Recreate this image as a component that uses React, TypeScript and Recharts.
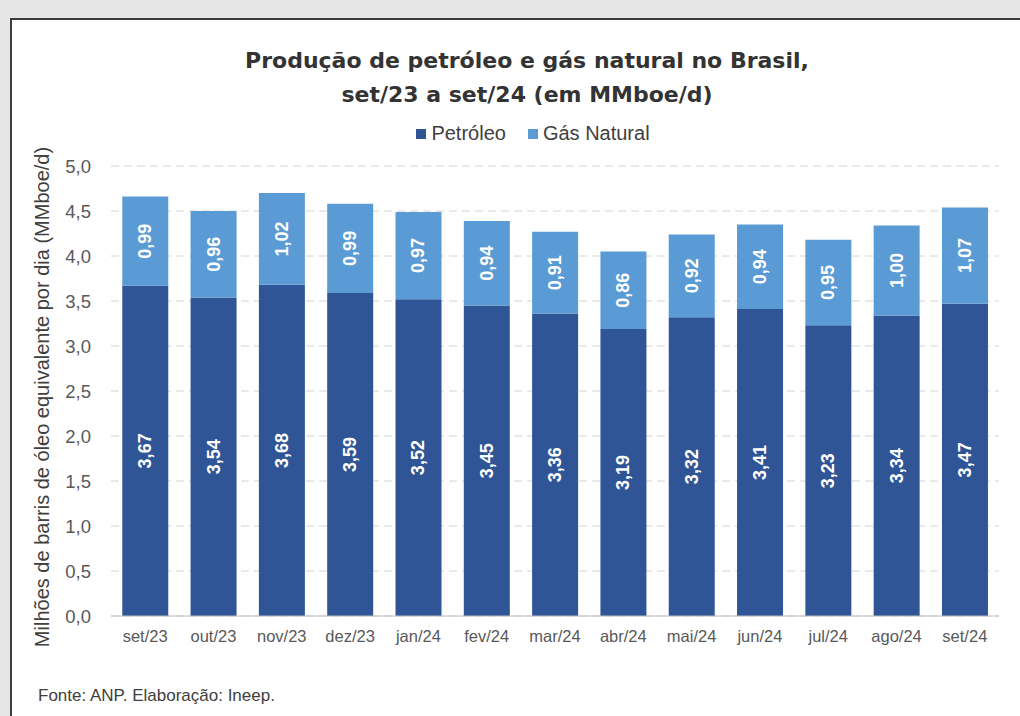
import { BarChart, Bar, XAxis, YAxis, CartesianGrid, LabelList } from 'recharts';

const months = ['set/23', 'out/23', 'nov/23', 'dez/23', 'jan/24', 'fev/24', 'mar/24', 'abr/24', 'mai/24', 'jun/24', 'jul/24', 'ago/24', 'set/24'];
const petroleo = [3.67, 3.54, 3.68, 3.59, 3.52, 3.45, 3.36, 3.19, 3.32, 3.41, 3.23, 3.34, 3.47];
const gasNatural = [0.99, 0.96, 1.02, 0.99, 0.97, 0.94, 0.91, 0.86, 0.92, 0.94, 0.95, 1.0, 1.07];
const yTicks = [0, 0.5, 1, 1.5, 2, 2.5, 3, 3.5, 4, 4.5, 5];

const data = months.map((m, i) => ({ month: m, petroleo: petroleo[i], gas: gasNatural[i] }));

const DARK = '#2f5597';
const LIGHT = '#5b9bd5';
const FONT = '"Liberation Sans", Arial, sans-serif';

const fmt = (v: number, digits = 2) => v.toFixed(digits).replace('.', ',');

// rotated white value inside each bar segment
function BarValue(props: any) {
  const { x, y, width, height, value } = props;
  const cx = x + width / 2;
  const cy = y + height / 2;
  return (
    <text
      x={cx}
      y={cy}
      transform={`rotate(-90, ${cx}, ${cy})`}
      textAnchor="middle"
      dominantBaseline="central"
      fill="#ffffff"
      fontSize={18}
      fontWeight="bold"
      fontFamily={FONT}
    >
      {fmt(value)}
    </text>
  );
}

export default function App() {
  return (
    <div style={{ position: 'absolute', left: 0, top: 0, width: 1020, height: 716, background: '#e6e6e6', overflow: 'hidden', fontFamily: FONT }}>
      <div style={{ position: 'absolute', left: 10, top: 18, width: 1040, height: 740, background: '#ffffff', border: '2px solid #3c3c3c', boxSizing: 'border-box' }} />

      <div style={{ position: 'absolute', left: 0, width: 1054, top: 44, textAlign: 'center', fontSize: 22, fontWeight: 'bold', fontFamily: '"DejaVu Sans", sans-serif', color: '#333333', lineHeight: '34px' }}>
        Produção de petróleo e gás natural no Brasil,<br />set/23 a set/24 (em MMboe/d)
      </div>

      <div style={{ position: 'absolute', left: 0, width: 1066, top: 122, display: 'flex', justifyContent: 'center', fontSize: 20, color: '#404040' }}>
        <span style={{ display: 'flex', alignItems: 'center', marginRight: 22 }}>
          <span style={{ width: 10, height: 10, background: DARK, marginRight: 5 }} />Petróleo
        </span>
        <span style={{ display: 'flex', alignItems: 'center' }}>
          <span style={{ width: 10, height: 10, background: LIGHT, marginRight: 5 }} />Gás Natural
        </span>
      </div>

      <div style={{ position: 'absolute', left: 42, top: 397, transform: 'translate(-50%, -50%) rotate(-90deg)', whiteSpace: 'nowrap', fontSize: 20, color: '#404040' }}>
        Milhões de barris de óleo equivalente por dia (MMboe/d)
      </div>

      <div style={{ position: 'absolute', left: 38, top: 686, fontSize: 17, color: '#404040' }}>
        Fonte: ANP. Elaboração: Ineep.
      </div>

      <div style={{ position: 'absolute', left: 0, top: 0 }}>
        <BarChart
          width={1020}
          height={716}
          data={data}
          margin={{ top: 166, right: 21, left: 51, bottom: 70 }}
          barCategoryGap="16.5%"
        >
          <CartesianGrid vertical={false} stroke="#d4d4d4" strokeDasharray="8 5" />
          <XAxis
            dataKey="month"
            height={30}
            tickLine={false}
            axisLine={{ stroke: '#bfbfbf' }}
            tick={{ fill: '#595959', fontSize: 16.5, fontFamily: FONT }}
            tickMargin={8}
            interval={0}
          />
          <YAxis
            width={60}
            domain={[0, 5]}
            ticks={yTicks}
            tickLine={false}
            axisLine={false}
            tickFormatter={(v: number) => fmt(v, 1)}
            tick={{ fill: '#595959', fontSize: 18.5, fontFamily: FONT }}
            tickMargin={14}
          />
          <Bar dataKey="petroleo" stackId="a" fill={DARK} isAnimationActive={false}>
            <LabelList dataKey="petroleo" content={BarValue} />
          </Bar>
          <Bar dataKey="gas" stackId="a" fill={LIGHT} isAnimationActive={false}>
            <LabelList dataKey="gas" content={BarValue} />
          </Bar>
        </BarChart>
      </div>
    </div>
  );
}
